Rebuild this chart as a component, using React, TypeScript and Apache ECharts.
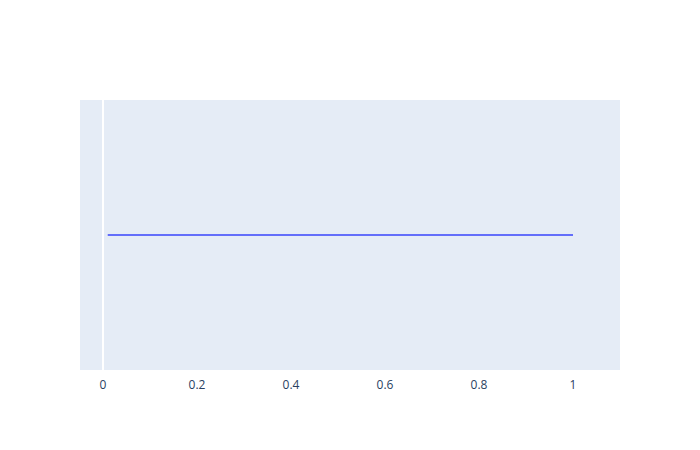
import { useRef, useEffect } from 'react';
import * as echarts from 'echarts';

const xValues = [0.01, 0.25, 0.5, 0.75, 1];
const yValues = [0, 0, 0, 0, 0];
const tickValues = [0, 0.2, 0.4, 0.6, 0.8, 1];

export default function App() {
  const ref = useRef<HTMLDivElement>(null);

  useEffect(() => {
    document.body.style.margin = '0';
    if (!ref.current) return;
    const chart = echarts.init(ref.current, undefined, { renderer: 'svg' });
    chart.setOption({
      animation: false,
      backgroundColor: '#fff',
      grid: { left: 80, top: 100, width: 540, height: 270, backgroundColor: '#E5ECF6', show: true, borderWidth: 0 },
      xAxis: {
        type: 'value',
        min: -0.049,
        max: 1.1,
        axisLine: { show: false },
        axisTick: { show: false },
        splitLine: { show: false },
        axisLabel: {
          customValues: tickValues,
          color: '#2a3f5f',
          fontSize: 12,
          fontFamily: 'Open Sans, sans-serif',
          margin: 8,
          formatter: (v: number) => String(+v.toFixed(1)),
        },
      },
      yAxis: {
        type: 'value',
        min: -1,
        max: 1,
        show: false,
      },
      series: [
        {
          type: 'line',
          data: xValues.map((x, i) => [x, yValues[i]]),
          showSymbol: false,
          lineStyle: { color: '#636efa', width: 2 },
          markLine: {
            silent: true,
            symbol: 'none',
            label: { show: false },
            lineStyle: { color: '#fff', width: 2, type: 'solid' },
            data: [{ xAxis: 0 }],
          },
        },
      ],
    });
    return () => chart.dispose();
  }, []);

  return <div ref={ref} style={{ width: 700, height: 450 }} />;
}
